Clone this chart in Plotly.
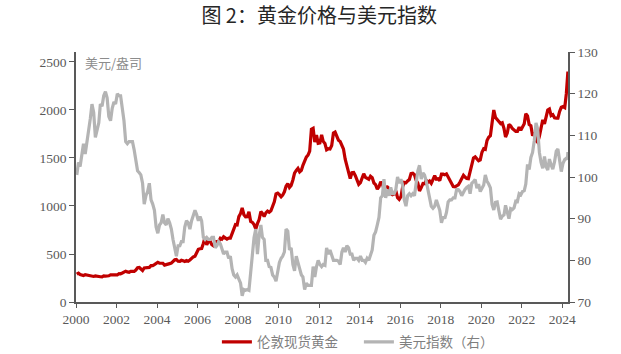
import pandas as pd
import plotly.graph_objects as go

# Monthly values (mid-month), Jan 2000 - Mar 2024, then two April 2024 points
gold = [
    289, 300, 286, 280, 275, 285, 282, 274, 273, 270, 266, 272,   # 2000
    266, 262, 263, 261, 272, 270, 268, 273, 283, 283, 276, 276,   # 2001
    282, 296, 294, 302, 314, 321, 313, 310, 319, 317, 319, 333,   # 2002
    357, 359, 340, 328, 355, 356, 351, 360, 379, 379, 389, 407,   # 2003
    414, 405, 406, 404, 384, 392, 398, 400, 405, 420, 439, 442,   # 2004
    424, 423, 434, 429, 422, 431, 424, 438, 456, 470, 476, 510,   # 2005
    549, 555, 557, 610, 676, 596, 633, 632, 598, 585, 627, 629,   # 2006
    631, 664, 655, 679, 667, 655, 665, 665, 712, 754, 806, 803,   # 2007
    889, 922, 980, 909, 888, 889, 939, 839, 829, 806, 760, 816,   # 2008
    858, 943, 924, 890, 928, 946, 934, 949, 996, 1043, 1127, 1134,  # 2009
    1118, 1095, 1113, 1148, 1205, 1232, 1193, 1215, 1271, 1343, 1370, 1391,  # 2010
    1356, 1372, 1424, 1474, 1510, 1529, 1572, 1800, 1810, 1665, 1739, 1652,  # 2011
    1656, 1742, 1673, 1650, 1585, 1596, 1594, 1630, 1760, 1770, 1722, 1685,  # 2012
    1671, 1627, 1593, 1487, 1414, 1343, 1286, 1347, 1349, 1316, 1275, 1225,  # 2013
    1244, 1300, 1336, 1299, 1287, 1279, 1311, 1296, 1239, 1223, 1176, 1201,  # 2014
    1251, 1227, 1179, 1198, 1199, 1181, 1128, 1117, 1125, 1159, 1086, 1068,  # 2015
    1097, 1200, 1246, 1242, 1261, 1276, 1337, 1341, 1326, 1267, 1238, 1157,  # 2016
    1192, 1234, 1231, 1266, 1246, 1260, 1236, 1283, 1315, 1280, 1283, 1265,  # 2017
    1331, 1331, 1325, 1335, 1303, 1282, 1238, 1202, 1199, 1215, 1221, 1250,  # 2018
    1291, 1320, 1301, 1286, 1284, 1359, 1413, 1500, 1511, 1495, 1471, 1480,  # 2019
    1560, 1597, 1591, 1683, 1716, 1732, 1847, 2000, 1921, 1900, 1866, 1858,  # 2020
    1867, 1808, 1718, 1760, 1850, 1834, 1807, 1785, 1776, 1777, 1821, 1790,  # 2021
    1816, 1856, 1960, 1937, 1849, 1836, 1733, 1765, 1681, 1664, 1726, 1798,  # 2022
    1898, 1855, 1912, 1999, 2010, 1942, 1951, 1918, 1916, 1916, 1985, 2028,  # 2023
    2035, 2025, 2170,                                              # 2024
]
dxy = [
    100.5, 103.5, 102.5, 106.0, 108.0, 105.5, 108.0, 111.5, 114.0, 117.5, 115.5, 109.5,  # 2000
    111.5, 113.0, 117.5, 117.0, 119.5, 120.5, 119.0, 114.5, 113.5, 116.5, 118.0, 117.5,  # 2001
    120.0, 119.5, 119.5, 116.5, 113.5, 108.5, 108.0, 108.5, 108.5, 108.5, 106.5, 103.5,  # 2002
    101.5, 101.0, 100.5, 98.5, 93.5, 95.5, 96.5, 98.5, 94.5, 93.5, 92.0, 88.0,  # 2003
    86.5, 88.5, 89.0, 91.0, 89.0, 88.5, 90.0, 89.0, 87.5, 85.0, 82.5, 81.0,  # 2004
    83.5, 83.5, 84.5, 84.5, 88.0, 89.5, 89.0, 87.5, 89.5, 90.5, 92.0, 91.0,  # 2005
    89.5, 90.5, 89.5, 85.5, 85.0, 85.5, 85.0, 85.0, 85.5, 85.5, 83.0, 83.5,  # 2006
    84.5, 84.0, 83.0, 81.5, 82.0, 82.0, 80.5, 81.0, 78.0, 76.5, 76.0, 76.5,  # 2007
    75.5, 74.5, 71.5, 73.0, 72.8, 73.0, 72.8, 77.0, 79.5, 85.5, 87.5, 81.5,  # 2008
    86.0, 88.5, 85.5, 85.0, 80.0, 80.0, 78.5, 78.3, 76.5, 76.0, 75.0, 77.8,  # 2009
    79.5, 80.5, 81.0, 82.0, 87.5, 87.0, 82.5, 83.0, 79.0, 77.5, 81.0, 79.5,  # 2010
    78.0, 76.5, 76.0, 73.0, 74.5, 74.0, 74.0, 74.0, 78.5, 76.0, 78.5, 80.0,  # 2011
    79.0, 78.5, 79.0, 78.8, 83.0, 81.5, 82.5, 81.5, 80.0, 80.0, 80.0, 79.8,  # 2012
    79.0, 82.0, 83.0, 82.0, 83.5, 83.0, 81.5, 81.5, 80.0, 80.5, 80.5, 80.0,  # 2013
    81.0, 80.0, 80.0, 79.5, 80.5, 80.0, 81.5, 82.5, 86.0, 86.8, 88.5, 90.3,  # 2014
    95.0, 95.5, 99.5, 95.0, 97.0, 95.5, 97.5, 96.0, 96.0, 97.0, 100.0, 98.5,  # 2015
    99.5, 98.0, 94.5, 93.0, 95.5, 96.0, 95.5, 96.0, 95.5, 98.5, 101.5, 102.8,  # 2016
    99.5, 101.0, 100.5, 99.0, 97.0, 95.5, 93.0, 92.5, 93.0, 94.5, 93.0, 92.0,  # 2017
    89.0, 90.5, 90.0, 91.5, 94.0, 94.5, 94.5, 95.0, 95.0, 97.0, 97.0, 96.5,  # 2018
    95.5, 96.5, 97.0, 97.5, 97.8, 96.0, 98.5, 98.9, 99.4, 97.3, 98.3, 96.5,  # 2019
    97.4, 98.1, 100.5, 99.0, 98.3, 97.4, 93.4, 92.1, 93.9, 94.0, 91.9, 89.9,  # 2020
    90.6, 90.9, 93.2, 91.3, 90.0, 92.4, 92.2, 92.6, 94.2, 94.1, 96.0, 95.7,  # 2021
    96.5, 96.7, 98.3, 103.0, 101.8, 104.7, 105.9, 108.7, 113.0, 111.5, 105.9, 103.5,  # 2022
    102.1, 104.9, 102.5, 101.7, 104.3, 102.9, 101.9, 103.6, 106.2, 106.7, 103.5, 101.3,  # 2023
    103.3, 104.2, 104.5,  # 2024
]
tail_dates = ["2024-04-05", "2024-04-12"]
tail_gold = [2320, 2400]
tail_dxy = [104.3, 106.0]

year_ticks = ["2000", "2002", "2004", "2006", "2008", "2010", "2012",
              "2014", "2016", "2018", "2020", "2022", "2024"]

dates = list((pd.date_range("2000-01-01", periods=len(gold), freq="MS")
              + pd.Timedelta(days=14)).strftime("%Y-%m-%d")) + tail_dates
gold_all = gold + tail_gold
dxy_all = dxy + tail_dxy

TXT = "#595959"
fig = go.Figure()
fig.add_trace(go.Scatter(x=dates, y=gold_all, mode="lines", name="伦敦现货黄金",
                         line=dict(color="#C00000", width=3.2)))
fig.add_trace(go.Scatter(x=dates, y=dxy_all, mode="lines", name="美元指数（右）",
                         yaxis="y2", line=dict(color="#B4B4B4", width=3.2)))

tick_font = dict(family="Liberation Serif", size=13.5, color=TXT)
fig.update_layout(
    width=621, height=354,
    margin=dict(l=76, r=53, t=52, b=52, autoexpand=False),
    paper_bgcolor="white", plot_bgcolor="white",
    title=dict(text="图 2：黄金价格与美元指数", x=0.514, xanchor="center",
               y=1 - 16 / 354, yanchor="middle",
               font=dict(family="Noto Sans CJK SC", size=20, color="#262626")),
    xaxis=dict(type="date", range=["2000-01-01", "2024-04-14"],
               tickvals=[f"{y}-01-01" for y in year_ticks], ticktext=year_ticks,
               ticks="outside", ticklen=4, tickcolor=TXT, showline=True,
               linecolor=TXT, linewidth=1.5, showgrid=False, zeroline=False,
               tickfont=tick_font),
    yaxis=dict(range=[0, 2604], tickvals=[0, 500, 1000, 1500, 2000, 2500],
               ticks="outside", ticklen=5, tickcolor=TXT, showline=True,
               linecolor=TXT, linewidth=1.5, showgrid=False, zeroline=False,
               tickfont=tick_font),
    yaxis2=dict(range=[70, 130], tickvals=[70, 80, 90, 100, 110, 120, 130],
                overlaying="y", side="right", ticks="outside", ticklen=5,
                tickcolor=TXT, showline=True, linecolor=TXT, linewidth=1.5,
                showgrid=False, zeroline=False, tickfont=tick_font),
    legend=dict(orientation="h", x=0.575, xanchor="center", y=-0.16,
                yanchor="middle", entrywidth=97, itemwidth=30,
                font=dict(family="Noto Sans CJK SC", size=13.5, color="#7F7F7F"),
                bgcolor="rgba(0,0,0,0)"),
    annotations=[dict(text="美元/盎司", xref="paper", yref="paper", x=0.015, y=0.96,
                      xanchor="left", yanchor="middle", showarrow=False,
                      font=dict(family="Noto Sans CJK SC", size=13, color="#8C8C8C"))],
)
fig.write_html("out.html")
